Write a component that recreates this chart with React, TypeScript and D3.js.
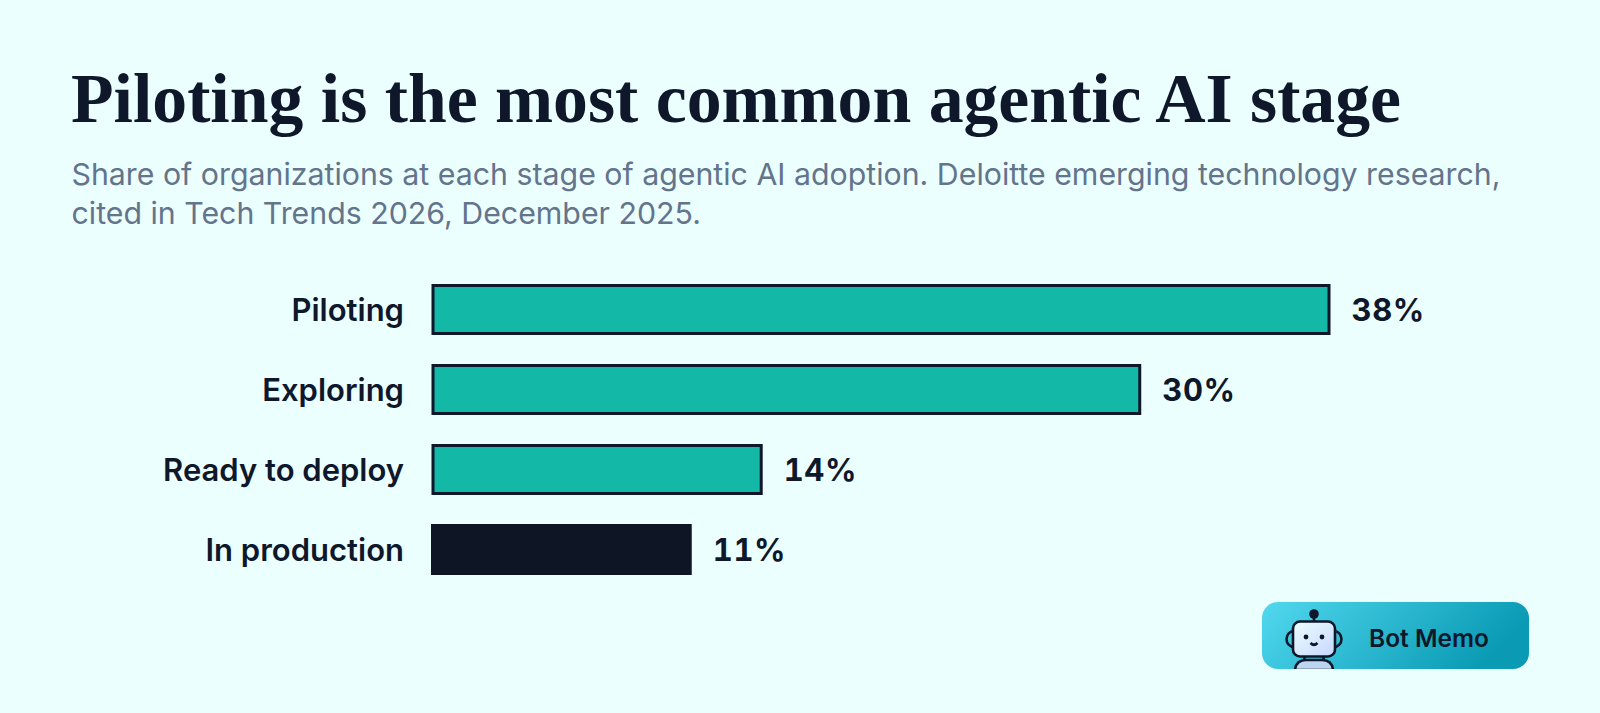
import React from "react";
import { scaleBand, scaleLinear } from "d3";

const stages = ["Piloting", "Exploring", "Ready to deploy", "In production"];
const shares = [38, 30, 14, 11];
const title = "Piloting is the most common agentic AI stage";
const subtitleLines = [
  "Share of organizations at each stage of agentic AI adoption. Deloitte emerging technology research,",
  "cited in Tech Trends 2026, December 2025.",
];
const brand = "Bot Memo";

const INK = "#0f172a";
const DARK = "#0e1626";
const TEAL = "#14b8a6";
const SLATE = "#64748b";
const BG = "#ebffff";
const SANS = "Inter, sans-serif";

export default function App() {
  const x = scaleLinear().domain([0, 38]).range([431.5, 1330.5]);
  const y = scaleBand().domain(stages).range([284, 575]).paddingInner(0.3625).paddingOuter(0);

  return (
    <svg
      width={1600}
      height={713}
      viewBox="0 0 1600 713"
      style={{ position: "fixed", left: 0, top: 0, display: "block" }}
    >
      <defs>
        <linearGradient id="badge" x1="0" y1="0" x2="1" y2="0.25">
          <stop offset="0%" stopColor="#50d8ee" />
          <stop offset="100%" stopColor="#0a9ab4" />
        </linearGradient>
        <linearGradient id="face" x1="0" y1="0" x2="1" y2="1">
          <stop offset="0%" stopColor="#ecfeff" />
          <stop offset="100%" stopColor="#c7d7fe" />
        </linearGradient>
        <clipPath id="badgeClip">
          <rect x={1262} y={602} width={267} height={67} rx={16} />
        </clipPath>
      </defs>
      <rect width={1600} height={713} fill={BG} />

      <text
        x={71}
        y={122}
        fontFamily="'Liberation Serif', serif"
        fontWeight={700}
        fontSize={70}
        fill={INK}
        textLength={1330}
        lengthAdjust="spacingAndGlyphs"
      >
        {title}
      </text>
      {subtitleLines.map((line, i) => (
        <text
          key={i}
          x={71.5}
          y={185 + i * 39}
          fontFamily={SANS}
          fontSize={30.3}
          fill={SLATE}
        >
          {line}
        </text>
      ))}

      {stages.map((s, i) => {
        const top = y(s)!;
        const h = y.bandwidth();
        const isLast = i === stages.length - 1;
        return (
          <g key={s}>
            <text
              x={404}
              y={top + h / 2 + 11}
              textAnchor="end"
              fontFamily={SANS}
              fontWeight={600}
              fontSize={31}
              fill={INK}
            >
              {s}
            </text>
            <rect
              x={x(0) + (isLast ? -0.5 : 1.5)}
              y={top + (isLast ? 0 : 1.5)}
              width={x(shares[i]) - x(0) + (isLast ? 0.5 : -3)}
              height={h - (isLast ? 0 : 3)}
              fill={isLast ? DARK : TEAL}
              stroke={isLast ? "none" : INK}
              strokeWidth={3}
            />
            <text
              x={x(shares[i]) + 21}
              y={top + h / 2 + 11}
              fontFamily={SANS}
              fontWeight={700}
              fontSize={31}
              letterSpacing={0.6}
              style={{ fontVariantNumeric: "tabular-nums" }}
              fill={INK}
            >
              {shares[i]}%
            </text>
          </g>
        );
      })}

      {/* badge */}
      <rect x={1262} y={602} width={267} height={67} rx={16} fill="url(#badge)" />
      <g clipPath="url(#badgeClip)" stroke={INK} strokeWidth={2.6}>
        <circle cx={1314} cy={614} r={4.8} fill={INK} stroke="none" />
        <line x1={1314} y1={618} x2={1314} y2={622} />
        <path d="M1294 631 a7.5 8 0 0 0 0 16 M1334 631 a7.5 8 0 0 1 0 16" fill="none" />
        <rect x={1293} y={621.5} width={42} height={35} rx={7} fill="url(#face)" />
        <circle cx={1306} cy={637} r={2.4} fill={INK} stroke="none" />
        <circle cx={1322} cy={637} r={2.4} fill={INK} stroke="none" />
        <path d="M1310.5 643 q3.5 3.5 7 0" fill="none" />
        <line x1={1305} y1={656} x2={1304} y2={660} />
        <line x1={1323} y1={656} x2={1324} y2={660} />
        <path d="M1295 670 q1 -10 11 -10 h16 q10 0 11 10 z" fill="#bcd6f2" />
      </g>
      <text x={1369} y={647} fontFamily={SANS} fontWeight={600} fontSize={24.5} fill={INK}>
        {brand}
      </text>
    </svg>
  );
}
